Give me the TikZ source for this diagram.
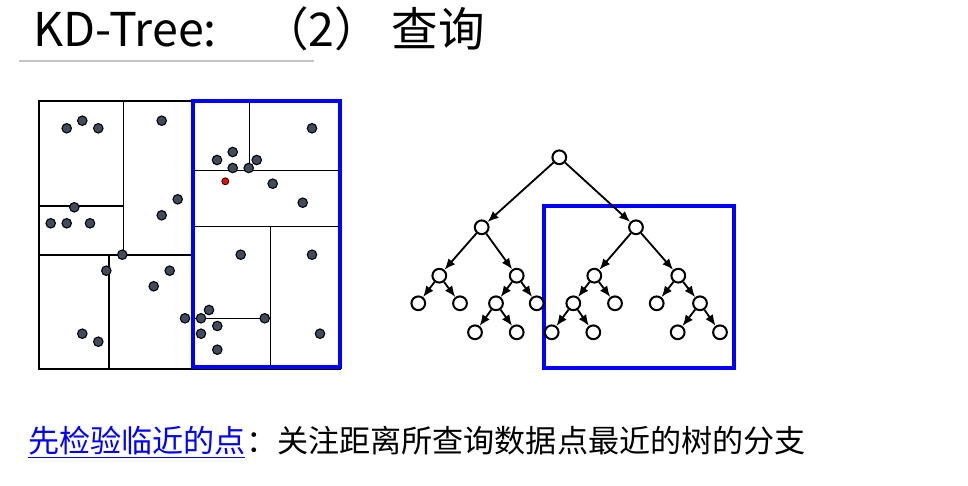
\documentclass[tikz,border=0pt]{standalone}
\usepackage{fontspec}
\newfontfamily\cjk{Noto Sans CJK SC}
\usetikzlibrary{arrows.meta}
\definecolor{dotgray}{HTML}{3E4C5E}
\definecolor{rulegray}{HTML}{C4C4C4}
\tikzset{
  kdpt/.style={circle,draw=black,fill=dotgray,line width=0.6pt,inner sep=0pt,minimum size=1.9mm},
  qpt/.style={circle,draw=black,fill=red,line width=0.45pt,inner sep=0pt,minimum size=1.4mm},
  splitln/.style={line width=0.9pt},
  treev/.style={circle,draw,line width=1.15pt,fill=white,inner sep=0pt,minimum size=2.75mm},
  childArrow/.style={-{Latex[length=2.2mm,width=1.8mm]},line width=1.05pt},
  hitbox/.style={draw=blue,line width=2.1pt}
}
\begin{document}
\begin{tikzpicture}[x=0.02cm,y=-0.02cm]
  \useasboundingbox (0,0) rectangle (968,486);
  % title
  \node[anchor=base west,inner sep=0pt,font=\cjk\fontsize{26.5pt}{30pt}\selectfont] (title) at (33,47)
    {KD-Tree:\hspace{26pt}（2） 查询};
  \draw[rulegray,line width=1.1pt] (19,61) -- (314,61);

  % space partition
  \draw[splitln] (39,101) rectangle (340,369);
  \draw[splitln] (123.3,101) -- (123.3,255);
  \draw[splitln] (39,206) -- (123.3,206);
  \draw[splitln] (39,255) -- (193.3,255);
  \draw[splitln] (109,255) -- (109,368);
  \draw[splitln] (249.3,101) -- (249.3,170.7);
  \draw[splitln] (193.3,170.7) -- (340,170.7);
  \draw[splitln] (193.3,226.7) -- (340,226.7);
  \draw[splitln] (270.7,226.7) -- (270.7,369);
  \draw[splitln] (193.3,318.7) -- (270.7,318.7);
  \draw[hitbox] (193.3,101) rectangle (340,367);

  \node[kdpt] (p1) at (66.7,128.3) {};  \node[kdpt] (p2) at (82.3,120.7) {};
  \node[kdpt] (p3) at (98.3,128.3) {};  \node[kdpt] (p4) at (161.7,120.7) {};
  \node[kdpt] (p5) at (74.3,207.3) {};  \node[kdpt] (p6) at (50.7,223.3) {};
  \node[kdpt] (p7) at (66.7,223.3) {};  \node[kdpt] (p8) at (90,223.3) {};
  \node[kdpt] (p9) at (177.7,199.3) {}; \node[kdpt] (p10) at (161.7,215.3) {};
  \node[kdpt] (p11) at (122.3,254.7) {}; \node[kdpt] (p12) at (106.3,270.7) {};
  \node[kdpt] (p13) at (169.7,270.7) {}; \node[kdpt] (p14) at (153.7,286.3) {};
  \node[kdpt] (p15) at (82.3,333.7) {};  \node[kdpt] (p16) at (98.3,341.7) {};
  \node[kdpt] (p17) at (185,318.3) {};   \node[kdpt] (p18) at (201,318.3) {};
  \node[kdpt] (p19) at (209,310) {};     \node[kdpt] (p20) at (217.3,326) {};
  \node[kdpt] (p21) at (201,333.7) {};   \node[kdpt] (p22) at (217.3,349.7) {};
  \node[kdpt] (p23) at (264.7,318.3) {}; \node[kdpt] (p24) at (240.7,254.7) {};
  \node[kdpt] (p25) at (312,254.7) {};   \node[kdpt] (p26) at (320,333.7) {};
  \node[kdpt] (p27) at (312,128.3) {};   \node[kdpt] (p28) at (217,160) {};
  \node[kdpt] (p29) at (232.7,152) {};   \node[kdpt] (p30) at (256.7,160) {};
  \node[kdpt] (p31) at (232.7,168) {};   \node[kdpt] (p32) at (248.7,168) {};
  \node[kdpt] (p33) at (272.7,183.7) {}; \node[kdpt] (p34) at (302.7,202.7) {};
  \node[qpt] (query) at (225.3,181.3) {};

  % tree
  \draw[hitbox] (544,206) rectangle (734.3,368.3);
  \node[treev] (root) at (559.3,157.3) {};
  \node[treev] (l) at (481.7,227.3) {};
  \node[treev] (r) at (636,227.3) {};
  \node[treev] (ll) at (439.3,275.7) {};
  \node[treev] (lr) at (516.7,275.7) {};
  \node[treev] (rl) at (594.3,275.7) {};
  \node[treev] (rr) at (678.3,275.7) {};
  \node[treev] (lll) at (418.3,303.3) {};
  \node[treev] (llr) at (460,303.3) {};
  \node[treev] (lrl) at (496,303.3) {};
  \node[treev] (lrr) at (536.7,303.3) {};
  \node[treev] (rll) at (573.3,303.3) {};
  \node[treev] (rlr) at (615,303.3) {};
  \node[treev] (rrl) at (656.7,303.3) {};
  \node[treev] (rrr) at (700,303.3) {};
  \node[treev] (lrll) at (475,332.3) {};
  \node[treev] (lrlr) at (516.7,332.3) {};
  \node[treev] (rlll) at (551.7,332.3) {};
  \node[treev] (rllr) at (593.3,332.3) {};
  \node[treev] (rrrl) at (677.7,332.3) {};
  \node[treev] (rrrr) at (720,332.3) {};
  \draw[childArrow] (root)--(l); \draw[childArrow] (root)--(r);
  \draw[childArrow] (l)--(ll);   \draw[childArrow] (l)--(lr);
  \draw[childArrow] (r)--(rl);   \draw[childArrow] (r)--(rr);
  \draw[childArrow] (ll)--(lll); \draw[childArrow] (ll)--(llr);
  \draw[childArrow] (lr)--(lrl); \draw[childArrow] (lr)--(lrr);
  \draw[childArrow] (rl)--(rll); \draw[childArrow] (rl)--(rlr);
  \draw[childArrow] (rr)--(rrl); \draw[childArrow] (rr)--(rrr);
  \draw[childArrow] (lrl)--(lrll); \draw[childArrow] (lrl)--(lrlr);
  \draw[childArrow] (rll)--(rlll); \draw[childArrow] (rll)--(rllr);
  \draw[childArrow] (rrr)--(rrrl); \draw[childArrow] (rrr)--(rrrr);

  % caption
  \node[anchor=base west,inner sep=0pt,font=\cjk\fontsize{17.7pt}{21pt}\selectfont] (caption) at (28,453)
    {\textcolor{blue}{先检验临近的点}：关注距离所查询数据点最近的树的分支};
  \draw[blue,line width=0.8pt] (28,457.7) -- (245,457.7);
\end{tikzpicture}
\end{document}
